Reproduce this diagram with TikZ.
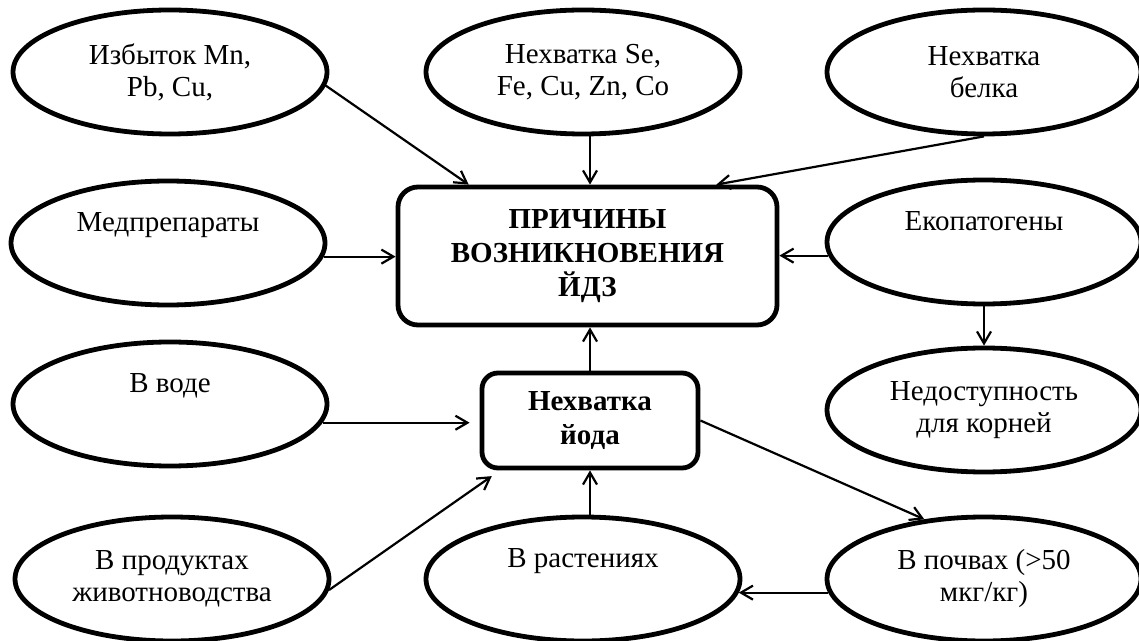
\documentclass[tikz,border=0pt]{standalone}
\usepackage{fontspec}
\setmainfont{Liberation Serif}
\usetikzlibrary{shapes.geometric,arrows.meta}
\begin{document}
\begin{tikzpicture}[x=0.5pt,y=-0.5pt,
	oval/.style={ellipse,draw,line width=2.4pt,inner sep=0pt,minimum width=157pt,minimum height=62pt,align=center,font=\fontsize{14.5}{16}\selectfont},
	cause/.style={draw,line width=2.4pt,rounded corners=10pt,inner sep=0pt,align=center,font=\fontsize{14.5}{17.2}\selectfont\bfseries},
	link/.style={-{Straight Barb[length=6pt,width=7pt]},line width=1.1pt}]
			\useasboundingbox (0,0) rectangle (1139,641);
			\node[oval] (izb) at (170,72) {Избыток Mn,\\Pb, Cu,};
			\node[oval] (sefe) at (583,72) {Нехватка Se,\\Fe, Cu, Zn, Co};
			\node[oval] (belka) at (984,72) {Нехватка\\белка};
			\node[oval] (med) at (168,243) {Медпрепараты\\\strut};
			\node[cause,minimum width=189.5pt,minimum height=69pt] (prich) at (587.5,256) {ПРИЧИНЫ\\ВОЗНИКНОВЕНИЯ\\ЙДЗ};
			\node[oval] (eko) at (984,242) {Екопатогены\\\strut};
			\node[oval] (voda) at (170,404) {В воде\\\strut};
			\node[cause,rounded corners=8pt,minimum width=108pt,minimum height=47.5pt] (jod) at (590,420.5) {Нехватка\\йода};
			\node[oval] (nedost) at (984,410) {Недоступность\\для корней};
			\node[oval] (prod) at (172,579) {В продуктах\\животноводства};
			\node[oval] (rast) at (583,579) {В растениях\\\strut};
			\node[oval] (pochv) at (984,579) {В почвах (>50\\мкг/кг)};
			\draw[link] (izb.-5) -- (prich.149);
			\draw[link] (sefe.south -| jod.north) -- (prich.north -| jod.north);
			\draw[link] (belka.south) -- (prich.29.5);
			\draw[link] (med.-5) -- (med.-5 -| prich.west);
			\draw[link] (eko.185) -- (eko.185 -| prich.east);
			\draw[link] (eko.south) -- (nedost.north);
			\draw[link] (jod.north) -- (jod.north |- prich.south);
			\draw[link,shorten >=5pt] (voda.-7) -- (voda.-7 -| jod.west);
			\draw[link,shorten >=5pt] (prod.-4) -- (jod.209.5);
			\draw[link] (rast.north -| jod.south) -- (jod.south);
			\draw[link] (jod.east) -- (pochv.135);
			\draw[link] (pochv.185) -- (rast.-5);
		\end{tikzpicture}
\end{document}
